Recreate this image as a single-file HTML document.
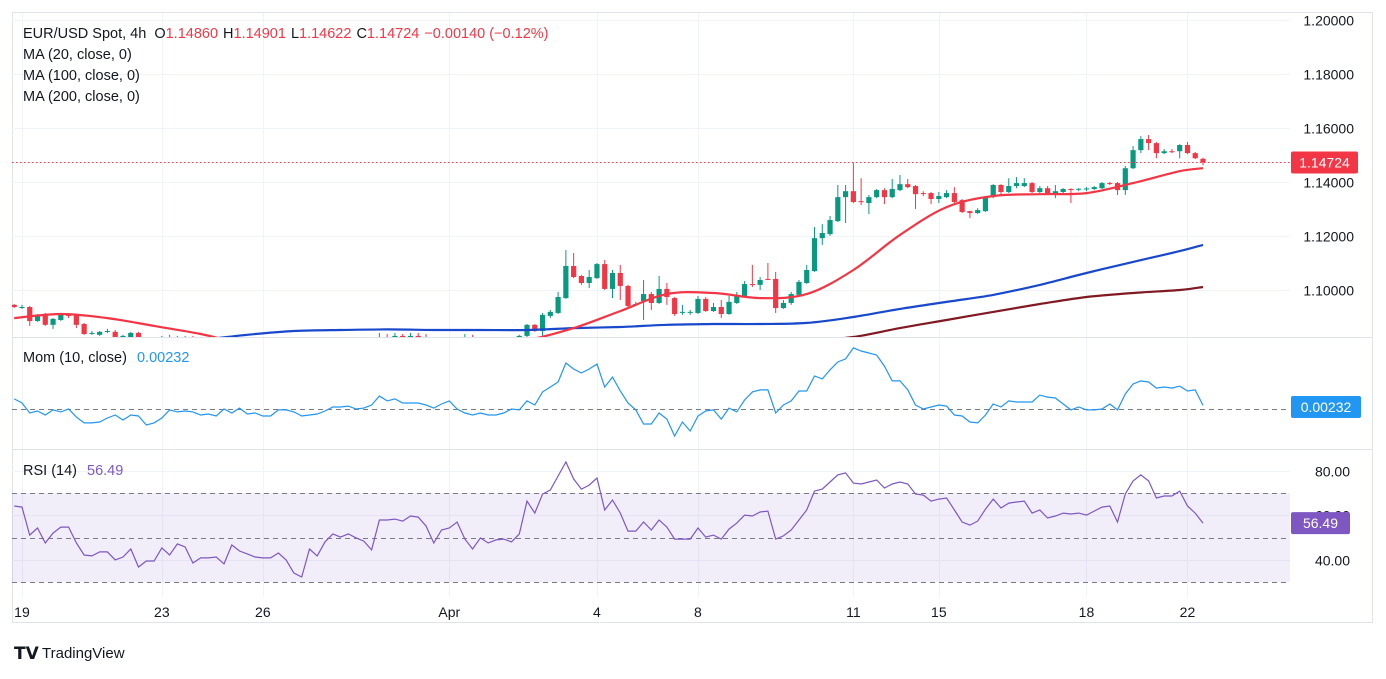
<!DOCTYPE html>
<html><head><meta charset="utf-8"><style>
body{margin:0;background:#fff;width:1386px;height:674px;overflow:hidden;font-family:"Liberation Sans",sans-serif}
svg text{font-family:"Liberation Sans",sans-serif}
</style></head><body>
<svg id="c" width="1386" height="674" xmlns="http://www.w3.org/2000/svg">
<defs><clipPath id="pc"><rect x="12" y="13" width="1278" height="324"/></clipPath></defs>
<rect x="12.5" y="12.5" width="1360" height="610" fill="none" stroke="#e0e3eb"/>
<g id="grid"></g>
<rect x="12" y="493" width="1278" height="89" fill="rgba(126,87,194,0.1)"/>
<g id="price" clip-path="url(#pc)"></g>
<g id="mom"></g>
<g id="rsi"></g>
<g id="axes"></g>
<line x1="12" y1="337.5" x2="1373" y2="337.5" stroke="#e0e3eb"/>
<line x1="12" y1="449.5" x2="1373" y2="449.5" stroke="#e0e3eb"/>
<text x="23" y="38" font-size="14.5" fill="#131722">EUR/USD Spot, 4h <tspan dx="4">O</tspan><tspan fill="#f23645">1.14860</tspan><tspan dx="5">H</tspan><tspan fill="#f23645">1.14901</tspan><tspan dx="5">L</tspan><tspan fill="#f23645">1.14622</tspan><tspan dx="5">C</tspan><tspan fill="#f23645">1.14724</tspan><tspan dx="5" fill="#f23645">−0.00140 (−0.12%)</tspan></text>
<text x="23" y="59" font-size="14.5" fill="#131722">MA (20, close, 0)</text>
<text x="23" y="80" font-size="14.5" fill="#131722">MA (100, close, 0)</text>
<text x="23" y="101" font-size="14.5" fill="#131722">MA (200, close, 0)</text>
<text x="23" y="362" font-size="14.5" fill="#131722">Mom (10, close) <tspan dx="6" fill="#2196f3">0.00232</tspan></text>
<text x="23" y="475" font-size="14.5" fill="#131722">RSI (14) <tspan dx="6" fill="#7e57c2">56.49</tspan></text>
<g>
<text x="14" y="659" font-size="17" font-weight="bold" fill="#131722">𝗧𝗩</text>
<text x="42" y="658" font-size="15" fill="#131722">TradingView</text>
</g>
</svg>
<script>
const opens=[1.0945,1.0937,1.0937,1.0885,1.0911,1.0871,1.0889,1.0908,1.0908,1.0874,
1.0841,1.0834,1.0848,1.0845,1.0822,1.0822,1.0841,1.0815,1.0797,1.0808,
1.0826,1.0819,1.0826,1.0826,1.0815,1.0805,1.0798,1.0790,1.0785,1.0792,
1.0788,1.0780,1.0776,1.0784,1.0790,1.0795,1.0788,1.0793,1.0800,1.0797,
1.0790,1.0786,1.0795,1.0802,1.0798,1.0805,1.0810,1.0812,1.0826,1.0819,
1.0830,1.0811,1.0830,1.0826,1.0815,1.0805,1.0798,1.0802,1.0810,1.0815,
1.0808,1.0800,1.0795,1.0805,1.0812,1.0818,1.0830,1.0871,1.0848,1.0904,
1.0915,1.0970,1.1089,1.1052,1.1026,1.1044,1.1096,1.1004,1.1063,1.1015,
1.0948,1.0959,1.0985,1.0952,1.1004,1.0970,1.0919,1.0919,1.0915,1.0967,
1.0922,1.0937,1.0911,1.0952,1.0978,1.1022,1.1019,1.1041,1.1041,1.0933,
1.0952,1.0982,1.1026,1.1070,1.1192,1.1207,1.1255,1.1344,1.1366,1.1329,
1.1322,1.1344,1.1370,1.1344,1.1370,1.1392,1.1385,1.1359,1.1359,1.1337,
1.1344,1.1359,1.1333,1.1292,1.1285,1.1292,1.1344,1.1389,1.1363,1.1385,
1.1385,1.1396,1.1363,1.1377,1.1359,1.1363,1.1374,1.1374,1.1374,1.1374,
1.1377,1.1396,1.1396,1.1370,1.1451,1.1518,1.1559,1.1544,1.1507,1.1514,
1.1514,1.1537,1.1507,1.1486];
const highs=[1.0948,1.0945,1.0941,1.0911,1.0915,1.0896,1.0911,1.0911,1.0911,1.0878,
1.0848,1.0848,1.0856,1.0852,1.0834,1.0845,1.0845,1.0822,1.0815,1.0830,
1.0834,1.0830,1.0830,1.0830,1.0819,1.0809,1.0802,1.0794,1.0796,1.0796,
1.0792,1.0784,1.0788,1.0794,1.0799,1.0799,1.0797,1.0804,1.0804,1.0801,
1.0794,1.0799,1.0806,1.0806,1.0809,1.0814,1.0816,1.0841,1.0837,1.0841,
1.0837,1.0841,1.0841,1.0837,1.0819,1.0809,1.0806,1.0814,1.0837,1.0834,
1.0812,1.0804,1.0809,1.0816,1.0822,1.0834,1.0874,1.0874,1.0915,1.0926,
1.0993,1.1148,1.1137,1.1056,1.1074,1.1100,1.1111,1.1074,1.1093,1.1019,
1.0956,1.1037,1.0993,1.1052,1.1026,1.0974,1.0945,1.0926,1.0978,1.0974,
1.0952,1.0963,1.0978,1.0993,1.1033,1.1093,1.1048,1.1100,1.1067,1.0963,
1.0993,1.1037,1.1093,1.1233,1.1244,1.1274,1.1389,1.1389,1.1472,1.1414,
1.1352,1.1374,1.1377,1.1411,1.1426,1.1411,1.1389,1.1366,1.1363,1.1363,
1.1370,1.1381,1.1337,1.1294,1.1303,1.1348,1.1392,1.1392,1.1414,1.1418,
1.1414,1.1400,1.1385,1.1385,1.1389,1.1377,1.1377,1.1377,1.1381,1.1385,
1.1400,1.1400,1.1400,1.1459,1.1533,1.1570,1.1574,1.1548,1.1522,1.1522,
1.1540,1.1548,1.1511,1.14901];
const lows=[1.0933,1.0930,1.0867,1.0882,1.0867,1.0856,1.0885,1.0896,1.0859,1.0834,
1.0834,1.0830,1.0841,1.0808,1.0819,1.0819,1.0808,1.0793,1.0789,1.0800,
1.0811,1.0815,1.0819,1.0808,1.0801,1.0794,1.0786,1.0781,1.0781,1.0784,
1.0776,1.0772,1.0772,1.0780,1.0786,1.0784,1.0784,1.0789,1.0793,1.0786,
1.0782,1.0782,1.0791,1.0794,1.0794,1.0801,1.0806,1.0808,1.0811,1.0815,
1.0804,1.0808,1.0819,1.0808,1.0801,1.0794,1.0794,1.0798,1.0805,1.0800,
1.0796,1.0791,1.0791,1.0801,1.0808,1.0814,1.0822,1.0845,1.0822,1.0896,
1.0911,1.0967,1.1044,1.1019,1.1007,1.1041,1.1000,1.0970,1.0963,1.0937,
1.0941,1.0889,1.0926,1.0948,1.0945,1.0904,1.0908,1.0908,1.0911,1.0919,
1.0919,1.0896,1.0908,1.0948,1.0974,1.1011,1.1000,1.1037,1.0915,1.0930,
1.0945,1.0978,1.1022,1.1067,1.1167,1.1200,1.1252,1.1248,1.1322,1.1315,
1.1281,1.1340,1.1318,1.1340,1.1366,1.1377,1.1300,1.1348,1.1318,1.1322,
1.1340,1.1322,1.1285,1.1266,1.1281,1.1289,1.1340,1.1348,1.1359,1.1377,
1.1381,1.1359,1.1359,1.1355,1.1340,1.1359,1.1322,1.1366,1.1366,1.1370,
1.1374,1.1389,1.1352,1.1352,1.1448,1.1507,1.1518,1.1488,1.1503,1.1507,
1.1488,1.1503,1.1485,1.14622];
const closes=[1.0937,1.0937,1.0885,1.0908,1.0871,1.0893,1.0908,1.0904,1.0871,1.0837,
1.0841,1.0845,1.0848,1.0815,1.0830,1.0841,1.0815,1.0797,1.0808,1.0826,
1.0819,1.0826,1.0826,1.0815,1.0805,1.0798,1.0790,1.0785,1.0792,1.0788,
1.0780,1.0776,1.0784,1.0790,1.0795,1.0788,1.0793,1.0800,1.0797,1.0790,
1.0786,1.0795,1.0802,1.0798,1.0805,1.0810,1.0812,1.0826,1.0819,1.0830,
1.0811,1.0830,1.0826,1.0815,1.0805,1.0798,1.0802,1.0810,1.0815,1.0808,
1.0800,1.0795,1.0805,1.0812,1.0818,1.0830,1.0871,1.0848,1.0908,1.0919,
1.0974,1.1089,1.1048,1.1026,1.1048,1.1096,1.1004,1.1063,1.1015,1.0941,
1.0948,1.0985,1.0952,1.1004,1.0974,1.0911,1.0919,1.0919,1.0967,1.0922,
1.0937,1.0911,1.0956,1.0982,1.1022,1.1019,1.1037,1.1039,1.0933,1.0952,
1.0985,1.1030,1.1074,1.1192,1.1211,1.1259,1.1344,1.1366,1.1326,1.1327,
1.1344,1.1370,1.1344,1.1374,1.1392,1.1381,1.1355,1.1357,1.1337,1.1348,
1.1359,1.1326,1.1289,1.1285,1.1296,1.1344,1.1389,1.1363,1.1385,1.1396,
1.1396,1.1363,1.1377,1.1359,1.1366,1.1374,1.1372,1.1375,1.1376,1.1381,
1.1396,1.1394,1.1370,1.1451,1.1518,1.1559,1.1544,1.1507,1.1514,1.1513,
1.1537,1.1507,1.1488,1.14724];
const maIndex=[0,6,12,18,24,30,36,42,48,54,60,66,72,78,84,90,96,102,108,114,120,126,132,138,144,150,153];
const ma20=[1.0896,1.0911,1.0896,1.0867,1.0837,1.0797,1.0771,1.0760,1.0771,1.0785,1.0800,1.0815,1.0859,1.0922,1.0985,1.0989,1.0970,1.0985,1.1074,1.1204,1.1307,1.1348,1.1355,1.1359,1.1396,1.1440,1.1451];
const ma100=[1.0741,1.0756,1.0778,1.0797,1.0815,1.0834,1.0848,1.0852,1.0854,1.0852,1.0852,1.0852,1.0859,1.0863,1.0871,1.0874,1.0874,1.0878,1.0900,1.0930,1.0956,1.0982,1.1019,1.1063,1.1104,1.1144,1.1167];
const ma200=[1.0556,1.0575,1.0593,1.0608,1.0623,1.0637,1.0652,1.0667,1.0682,1.0697,1.0711,1.0726,1.0741,1.0756,1.0771,1.0785,1.0800,1.0811,1.0826,1.0859,1.0889,1.0919,1.0948,1.0974,1.0989,1.1000,1.1011];
const momValues=[0.0065,0.0039,-0.0026,-0.0013,-0.0039,-0.0006,-0.0019,0.0000,-0.0052,-0.0090,
-0.0090,-0.0084,-0.0058,-0.0039,-0.0071,-0.0039,-0.0045,-0.0103,-0.0090,-0.0058,
-0.0006,-0.0019,-0.0013,-0.0019,-0.0039,-0.0032,-0.0045,0.0000,-0.0026,0.0006,
-0.0032,-0.0026,-0.0045,-0.0045,-0.0006,-0.0006,-0.0019,-0.0045,-0.0039,-0.0032,
-0.0013,0.0013,0.0013,0.0019,0.0000,0.0006,0.0026,0.0084,0.0052,0.0065,
0.0039,0.0039,0.0039,0.0026,0.0006,0.0032,0.0052,0.0000,-0.0026,-0.0039,
-0.0026,-0.0039,-0.0039,-0.0026,0.0000,-0.0006,0.0052,0.0026,0.0110,0.0142,
0.0174,0.0297,0.0258,0.0232,0.0258,0.0290,
0.0142,0.0206,0.0116,0.0039,-0.0006,-0.0097,-0.0097,-0.0026,-0.0065,-0.0174,
-0.0084,-0.0142,-0.0045,-0.0013,-0.0006,-0.0065,0.0006,-0.0019,0.0058,0.0110,
0.0123,0.0123,-0.0026,0.0026,0.0052,0.0116,0.0116,0.0213,0.0194,0.0252,
0.0303,0.0323,0.0394,0.0374,0.0361,0.0348,0.0277,0.0181,0.0181,0.0123,
0.0026,0.0000,0.0013,0.0026,0.0019,-0.0039,-0.0045,-0.0084,-0.0090,-0.0039,
0.0032,0.0013,0.0052,0.0045,0.0045,0.0045,0.0090,0.0077,0.0071,0.0032,
-0.0006,0.0013,-0.0006,-0.0006,0.0000,0.0032,-0.0006,0.0097,0.0161,0.0181,
0.0174,0.0135,0.0142,0.0135,0.0148,0.0116,0.0123,0.00232];
const rsiValues=[64.2,63.7,51.1,54.3,47.5,52.0,54.7,54.7,47.5,42.1,
41.7,43.5,43.5,39.9,41.2,44.8,36.7,39.4,39.4,45.3,
42.1,47.1,45.7,38.5,40.8,40.8,41.2,38.1,46.6,43.9,
42.6,41.2,40.8,40.8,43.0,39.9,34.0,32.2,44.8,41.7,
48.0,51.6,50.2,51.6,49.8,48.4,44.4,57.9,57.9,58.3,
57.4,59.7,59.2,55.2,47.5,53.4,54.3,57.0,49.3,44.8,
49.8,47.5,48.9,49.3,48.0,51.6,66.4,61.0,69.6,71.4,
77.7,84.0,76.4,71.8,73.6,76.8,
62.4,66.9,61.0,52.9,52.9,57.0,53.4,57.9,54.7,49.3,
49.3,49.3,54.3,50.2,51.1,49.3,53.8,56.5,60.1,59.7,
61.5,61.9,49.3,50.7,53.4,57.9,62.4,70.9,71.8,75.0,
78.2,79.1,74.5,74.1,75.0,75.9,72.3,74.1,75.0,74.1,
69.6,69.1,66.4,67.3,67.8,62.4,57.0,55.6,57.4,62.8,
67.3,63.3,65.5,66.0,66.4,61.0,62.4,58.8,59.7,61.0,
60.6,61.0,60.1,61.9,63.7,64.2,57.0,69.6,75.5,78.2,
75.5,67.8,68.7,68.7,70.9,64.2,61.0,56.49];
const priceTicks=[1.20,1.18,1.16,1.14,1.12,1.10];
const rsiTicks=[80,60,40];
const rsiLevels=[70,50,30];
const dateLabels=["19","23","26","Apr","4","8","11","15","18","22"];
const dateIndex=[1,19,32,56,75,88,108,119,138,151];
const lastPrice=1.14724;
const lastMom=0.00232;
const lastRsi=56.49;

const NS="http://www.w3.org/2000/svg";
const xOf=i=>14.2+7.77*i;
const yP=p=>290-(p-1.1)*2700;
const yM=v=>409-v*1550;
const yR=v=>537.5-(v-50)*2.22;
function mk(tag,attrs,parent){const e=document.createElementNS(NS,tag);for(const k in attrs)e.setAttribute(k,attrs[k]);parent.appendChild(e);return e;}
const grid=document.getElementById('grid'),price=document.getElementById('price'),mom=document.getElementById('mom'),rsi=document.getElementById('rsi'),axes=document.getElementById('axes');

dateIndex.forEach((di,k)=>{const x=Math.round(xOf(di))+0.5;
 const l=mk('line',{x1:x,y1:13,x2:x,y2:597,stroke:'#f0f3fa'},grid);
 
 
 const t=mk('text',{x:xOf(di),y:617,'font-size':14,'text-anchor':'middle',fill:'#131722'},axes);
 t.textContent=dateLabels[k];
 
 
});
priceTicks.forEach(p=>{const y=Math.round(yP(p))+0.5;
 const l=mk('line',{x1:12,y1:y,x2:1290,y2:y,stroke:'#f0f3fa'},grid);
 
 
 const t=mk('text',{x:1354,y:y+5,'font-size':14,'text-anchor':'end',fill:'#131722'},axes);
 t.textContent=p.toFixed(5);
 
 
});
rsiTicks.forEach(v=>{const y=Math.round(yR(v))+0.5;
 const l=mk('line',{x1:12,y1:y,x2:1290,y2:y,stroke:'#f0f3fa'},grid);
 
 
 const t=mk('text',{x:1350,y:y+5,'font-size':14,'text-anchor':'end',fill:'#131722'},axes);
 t.textContent=v.toFixed(2);
 
 
});
rsiLevels.forEach(v=>{const y=Math.round(yR(v))+0.5;
 const l=mk('line',{x1:12,y1:y,x2:1290,y2:y,stroke:'#787b86','stroke-dasharray':'5,4'},rsi);
 
 
});
const zl=mk('line',{x1:12,y1:Math.round(yM(0))+0.5,x2:1290,y2:Math.round(yM(0))+0.5,stroke:'#787b86','stroke-dasharray':'5,4'},mom);



closes.forEach((c,i)=>{const o=opens[i],up=c>=o,col=up?'#089981':'#f23645',x=xOf(i);
 const g=mk('g',{},price);
 
 
 mk('line',{x1:x,y1:yP(highs[i]),x2:x,y2:yP(lows[i]),stroke:col,'stroke-width':1},g);
 const t=Math.min(yP(o),yP(c)),h=Math.max(1,Math.abs(yP(o)-yP(c)));
 mk('rect',{x:x-2.6,y:t,width:5.2,height:h,fill:col},g);
});
function smoothPath(pts){let d='M'+pts[0][0].toFixed(1)+','+pts[0][1].toFixed(1);
 for(let k=0;k<pts.length-1;k++){const p0=pts[Math.max(0,k-1)],p1=pts[k],p2=pts[k+1],p3=pts[Math.min(pts.length-1,k+2)];
  const c1x=p1[0]+(p2[0]-p0[0])/6,c1y=p1[1]+(p2[1]-p0[1])/6,c2x=p2[0]-(p3[0]-p1[0])/6,c2y=p2[1]-(p3[1]-p1[1])/6;
  d+=' C'+c1x.toFixed(1)+','+c1y.toFixed(1)+' '+c2x.toFixed(1)+','+c2y.toFixed(1)+' '+p2[0].toFixed(1)+','+p2[1].toFixed(1);}
 return d;}
function maLine(vals,col,name){const pts=vals.map((v,k)=>[xOf(maIndex[k]),yP(v)]);
 const l=mk('path',{d:smoothPath(pts),fill:'none',stroke:col,'stroke-width':2.2,'stroke-linejoin':'round'},price);
 
 
}
maLine(ma200,'#801922','ma200-line');
maLine(ma100,'#1848cc','ma100-line');
maLine(ma20,'#f23645','ma20-line');
const ly=Math.round(yP(lastPrice))+0.5;
const pl=mk('line',{x1:12,y1:ly,x2:1290,y2:ly,stroke:'#f23645','stroke-dasharray':'1.5,2.5'},document.getElementById('c'));



const mline=mk('polyline',{points:momValues.map((v,i)=>xOf(i).toFixed(1)+','+yM(v).toFixed(1)).join(' '),fill:'none',stroke:'#2196f3','stroke-width':1.2},mom);


const rline=mk('polyline',{points:rsiValues.map((v,i)=>xOf(i).toFixed(1)+','+yR(v).toFixed(1)).join(' '),fill:'none',stroke:'#7e57c2','stroke-width':1.2},rsi);



function badge(y,w,col,txt,name){const g=mk('g',{},axes);
 
 
 mk('rect',{x:1291,y:y-11,width:w,height:22,rx:2,fill:col},g);
 const t=mk('text',{x:1291+w/2,y:y+5,'font-size':14,'text-anchor':'middle',fill:'#fff'},g);
 t.textContent=txt;
}
badge(yP(lastPrice),67,'#f23645',lastPrice.toFixed(5),'last-price-badge');
badge(407,70,'#2196f3',lastMom.toFixed(5),'momentum-value-badge');
badge(yR(lastRsi),59,'#7e57c2',lastRsi.toFixed(2),'rsi-value-badge');
</script>
</body></html>
